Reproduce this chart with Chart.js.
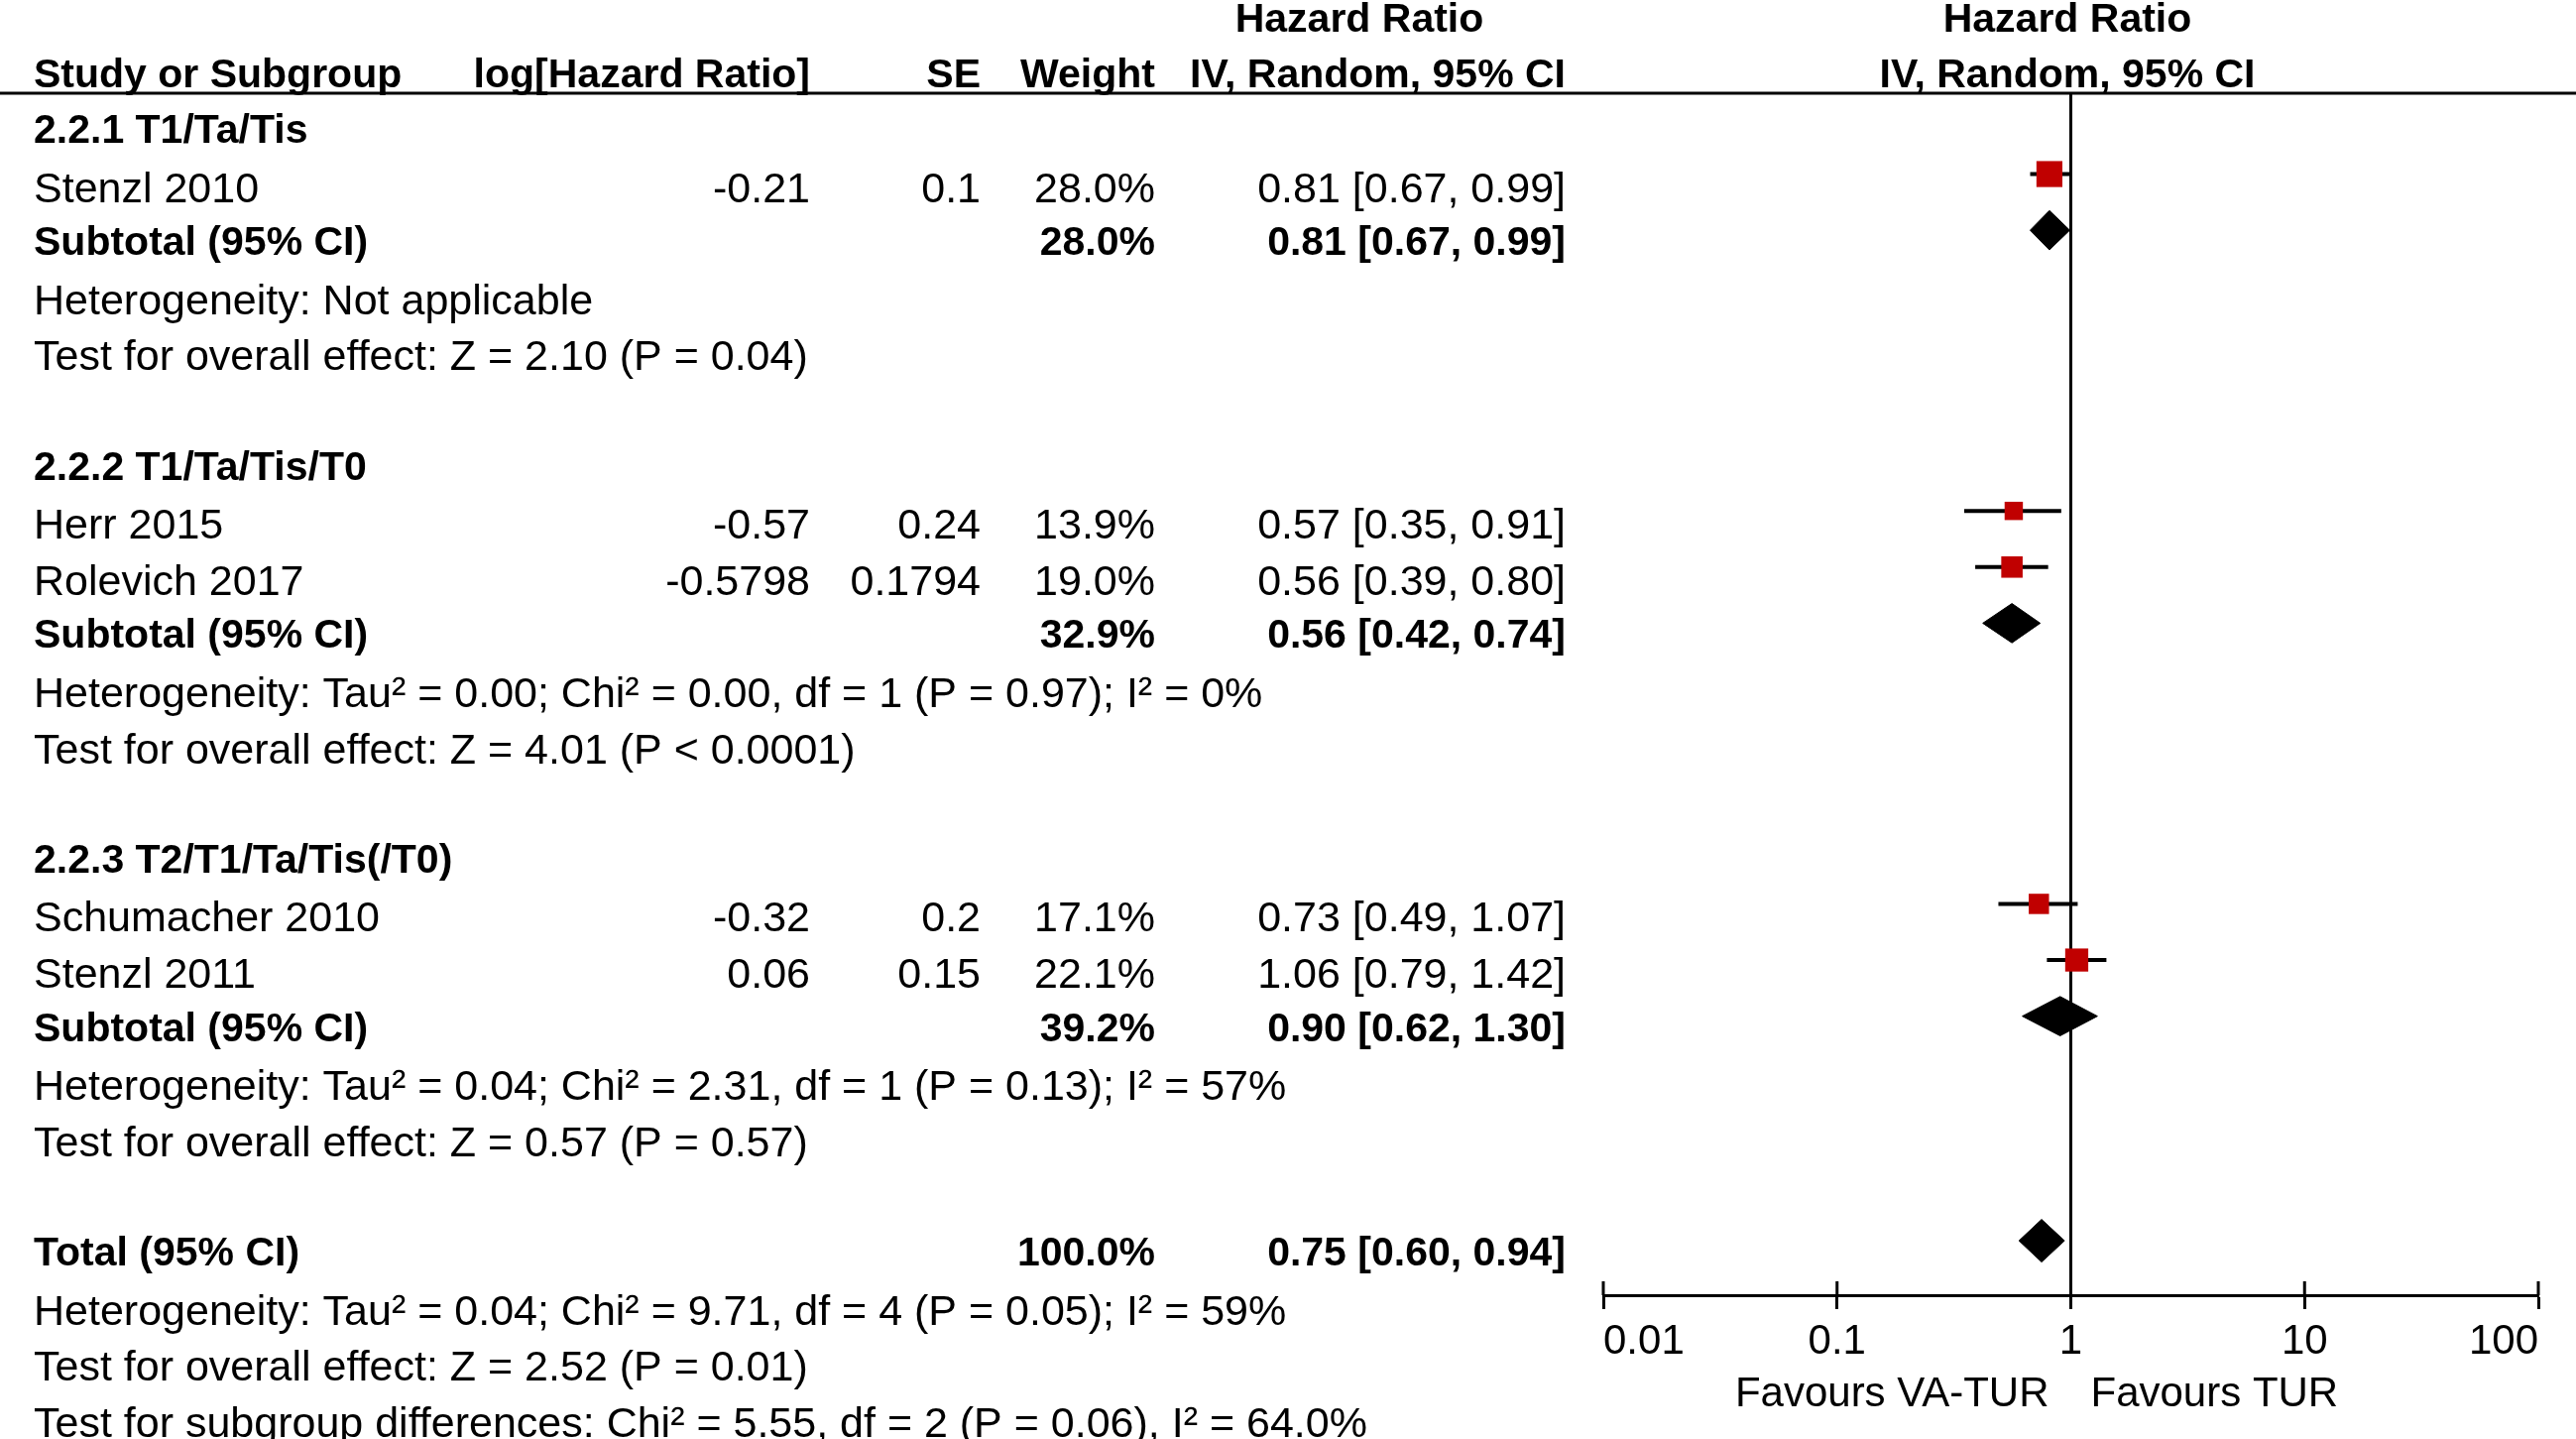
<!DOCTYPE html>
<html>
<head>
<meta charset="utf-8">
<script src="https://cdn.jsdelivr.net/npm/chart.js@4.4.1/dist/chart.umd.min.js"></script>
<style>
  html, body { margin: 0; padding: 0; background: #fff; }
  #wrap { width: 2598px; height: 1451px; }
</style>
</head>
<body>
<div id="wrap"><canvas id="forest" width="2598" height="1451"></canvas></div>
<script>
// Forest plot data (hazard ratios, IV random effects)
const groupLabels = ['2.2.1 T1/Ta/Tis', '2.2.2 T1/Ta/Tis/T0', '2.2.3 T2/T1/Ta/Tis(/T0)'];
const studyNames = ['Stenzl 2010', 'Herr 2015', 'Rolevich 2017', 'Schumacher 2010', 'Stenzl 2011'];
const studyGroup = [0, 1, 1, 2, 2];
const logHR = ['-0.21', '-0.57', '-0.5798', '-0.32', '0.06'];
const seValues = ['0.1', '0.24', '0.1794', '0.2', '0.15'];
const weights = [28.0, 13.9, 19.0, 17.1, 22.1];
const hrEst = [0.81, 0.57, 0.56, 0.73, 1.06];
const hrLow = [0.67, 0.35, 0.39, 0.49, 0.79];
const hrHigh = [0.99, 0.91, 0.80, 1.07, 1.42];

const subWeights = [28.0, 32.9, 39.2];
const subEst = [0.81, 0.56, 0.90];
const subLow = [0.67, 0.42, 0.62];
const subHigh = [0.99, 0.74, 1.30];
const subHetero = [
  'Heterogeneity: Not applicable',
  'Heterogeneity: Tau² = 0.00; Chi² = 0.00, df = 1 (P = 0.97); I² = 0%',
  'Heterogeneity: Tau² = 0.04; Chi² = 2.31, df = 1 (P = 0.13); I² = 57%'
];
const subOverall = [
  'Test for overall effect: Z = 2.10 (P = 0.04)',
  'Test for overall effect: Z = 4.01 (P < 0.0001)',
  'Test for overall effect: Z = 0.57 (P = 0.57)'
];

const totalWeight = 100.0;
const totalEst = 0.75;
const totalLow = 0.60;
const totalHigh = 0.94;
const totalNotes = [
  'Heterogeneity: Tau² = 0.04; Chi² = 9.71, df = 4 (P = 0.05); I² = 59%',
  'Test for overall effect: Z = 2.52 (P = 0.01)',
  'Test for subgroup differences: Chi² = 5.55, df = 2 (P = 0.06), I² = 64.0%'
];

const tickValues = [0.01, 0.1, 1, 10, 100];
const tickLabels = ['0.01', '0.1', '1', '10', '100'];
const favourLabels = ['Favours VA-TUR', 'Favours TUR'];

// column anchors (px)
const COL = { name: 34, log: 817, se: 989, weight: 1165, ci: 1579, hrHead: 1371, plotHead: 2085 };
const FONT = 'Liberation Sans, Arial, sans-serif';

const ciText = (e, l, h) => `${e.toFixed(2)} [${l.toFixed(2)}, ${h.toFixed(2)}]`;

// build the table rows
const lines = [];
const studyRow = [];
const subRow = [];
let r = 0;
groupLabels.forEach((g, gi) => {
  lines.push({ row: r++, bold: true, cells: [[g, 'left', COL.name]] });
  studyNames.forEach((n, i) => {
    if (studyGroup[i] !== gi) return;
    studyRow[i] = r;
    lines.push({ row: r++, bold: false, cells: [
      [n, 'left', COL.name],
      [logHR[i], 'right', COL.log],
      [seValues[i], 'right', COL.se],
      [weights[i].toFixed(1) + '%', 'right', COL.weight],
      [ciText(hrEst[i], hrLow[i], hrHigh[i]), 'right', COL.ci]
    ] });
  });
  subRow[gi] = r;
  lines.push({ row: r++, bold: true, cells: [
    ['Subtotal (95% CI)', 'left', COL.name],
    [subWeights[gi].toFixed(1) + '%', 'right', COL.weight],
    [ciText(subEst[gi], subLow[gi], subHigh[gi]), 'right', COL.ci]
  ] });
  lines.push({ row: r++, bold: false, cells: [[subHetero[gi], 'left', COL.name]] });
  lines.push({ row: r++, bold: false, cells: [[subOverall[gi], 'left', COL.name]] });
  r++;
});
const totalRow = r;
lines.push({ row: r++, bold: true, cells: [
  ['Total (95% CI)', 'left', COL.name],
  [totalWeight.toFixed(1) + '%', 'right', COL.weight],
  [ciText(totalEst, totalLow, totalHigh), 'right', COL.ci]
] });
totalNotes.forEach(t => lines.push({ row: r++, bold: false, cells: [[t, 'left', COL.name]] }));

// datasets
const datasets = [];
datasets.push({
  type: 'scatter',
  data: studyNames.map((n, i) => ({ x: hrEst[i], y: studyRow[i] })),
  pointStyle: 'rect',
  pointRadius: weights.map(w => 3.5 * Math.sqrt(w)),
  backgroundColor: '#c00000',
  borderWidth: 0
});
studyNames.forEach((n, i) => {
  datasets.push({
    type: 'line',
    data: [{ x: hrLow[i], y: studyRow[i] }, { x: hrHigh[i], y: studyRow[i] }],
    borderColor: '#000',
    borderWidth: 4,
    pointRadius: 0,
    fill: false
  });
});
function diamond(est, lo, hi, row, h) {
  return {
    type: 'line',
    data: [{ x: lo, y: row }, { x: est, y: row - h }, { x: hi, y: row }, { x: est, y: row + h }, { x: lo, y: row }],
    borderColor: '#000',
    borderWidth: 1,
    backgroundColor: '#000',
    pointRadius: 0,
    tension: 0,
    fill: 'shape'
  };
}
subEst.forEach((e, gi) => datasets.push(diamond(e, subLow[gi], subHigh[gi], subRow[gi], 0.35)));
datasets.push(diamond(totalEst, totalLow, totalHigh, totalRow, 0.38));

const forestDecor = {
  id: 'forestDecor',
  beforeDatasetsDraw(chart) {
    const { ctx, chartArea, scales } = chart;
    const x1 = scales.x.getPixelForValue(1);
    ctx.save();
    ctx.strokeStyle = '#000';
    ctx.lineWidth = 3;
    ctx.beginPath();
    ctx.moveTo(x1, chartArea.top);
    ctx.lineTo(x1, chartArea.bottom);
    ctx.stroke();
    ctx.restore();
  },
  afterDraw(chart) {
    const { ctx, chartArea, scales } = chart;
    const xs = scales.x, ys = scales.y;
    ctx.save();
    ctx.fillStyle = '#000';
    ctx.strokeStyle = '#000';

    // header rule
    ctx.lineWidth = 3;
    ctx.beginPath();
    ctx.moveTo(0, chartArea.top);
    ctx.lineTo(chart.width, chartArea.top);
    ctx.stroke();

    // upper halves of the axis ticks
    tickValues.forEach(v => {
      const px = xs.getPixelForValue(v);
      ctx.beginPath();
      ctx.moveTo(px, chartArea.bottom);
      ctx.lineTo(px, chartArea.bottom - 14);
      ctx.stroke();
    });

    // headers
    ctx.font = `bold 41px ${FONT}`;
    ctx.textBaseline = 'alphabetic';
    ctx.textAlign = 'center';
    ctx.fillText('Hazard Ratio', COL.hrHead, 32);
    ctx.fillText('Hazard Ratio', COL.plotHead, 32);
    ctx.fillText('IV, Random, 95% CI', COL.plotHead, 88);
    ctx.textAlign = 'left';
    ctx.fillText('Study or Subgroup', COL.name, 88);
    ctx.textAlign = 'right';
    ctx.fillText('log[Hazard Ratio]', COL.log, 88);
    ctx.fillText('SE', COL.se, 88);
    ctx.fillText('Weight', COL.weight, 88);
    ctx.fillText('IV, Random, 95% CI', COL.ci, 88);

    // table body
    lines.forEach(line => {
      const y = ys.getPixelForValue(line.row) + (line.bold ? 25 : 28);
      ctx.font = line.bold ? `bold 41px ${FONT}` : `43px ${FONT}`;
      line.cells.forEach(([t, align, x]) => {
        ctx.textAlign = align;
        ctx.fillText(t, x, y);
      });
    });

    // favours labels
    const x1 = xs.getPixelForValue(1);
    ctx.font = `42px ${FONT}`;
    ctx.textAlign = 'right';
    ctx.fillText(favourLabels[0], x1 - 22, 1418);
    ctx.textAlign = 'left';
    ctx.fillText(favourLabels[1], x1 + 20, 1418);
    ctx.restore();
  }
};

Chart.defaults.font.family = FONT;
Chart.defaults.color = '#000';

new Chart(document.getElementById('forest'), {
  type: 'scatter',
  data: { datasets },
  options: {
    responsive: false,
    animation: false,
    events: [],
    layout: { padding: { left: 1617, right: 38, top: 94, bottom: 0 } },
    plugins: { legend: { display: false }, tooltip: { enabled: false } },
    scales: {
      x: {
        type: 'logarithmic',
        min: 0.01,
        max: 100,
        afterBuildTicks: s => { s.ticks = tickValues.map(v => ({ value: v })); },
        afterFit: s => { s.height = 145; },
        ticks: {
          align: 'inner',
          padding: 8,
          color: '#000',
          font: { size: 42 },
          maxRotation: 0,
          autoSkip: false,
          callback: (v, i) => tickLabels[i]
        },
        grid: { drawOnChartArea: false, drawTicks: true, tickLength: 14, tickWidth: 3, tickColor: '#000' },
        border: { display: true, color: '#000', width: 3 }
      },
      y: {
        type: 'linear',
        reverse: true,
        min: -0.44,
        max: 20.97,
        display: false
      }
    }
  },
  plugins: [forestDecor]
});
</script>
</body>
</html>
